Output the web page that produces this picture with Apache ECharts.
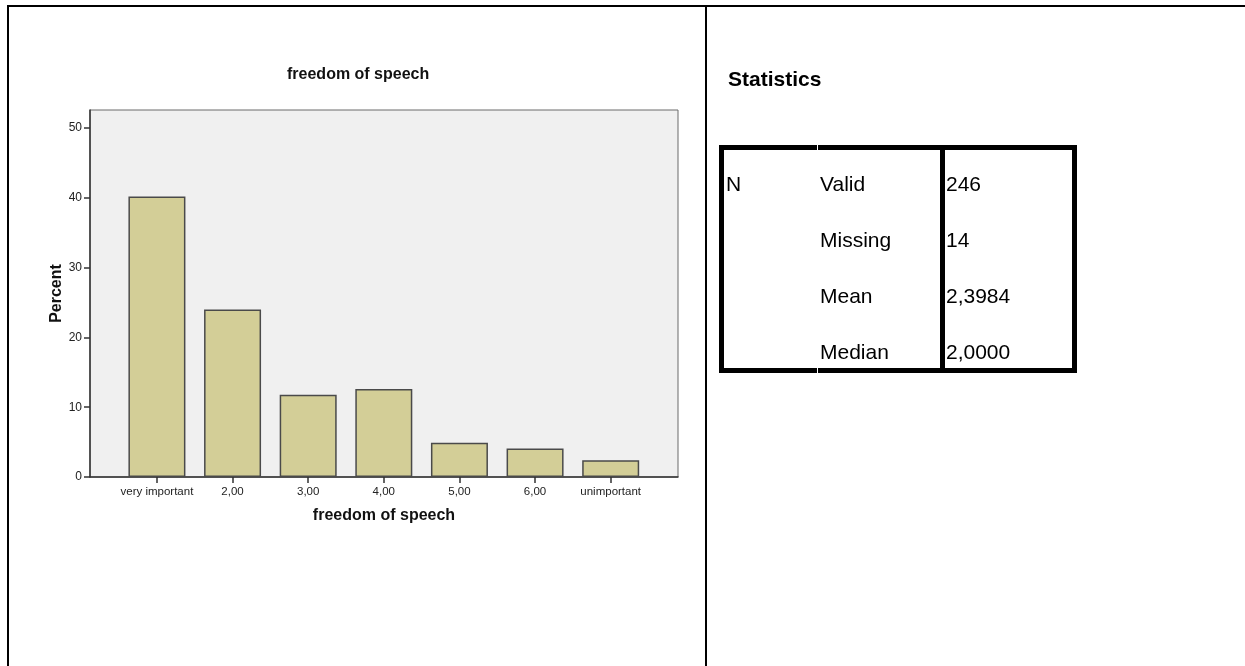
<!DOCTYPE html>
<html><head><meta charset="utf-8">
<script src="https://cdn.jsdelivr.net/npm/echarts@6/dist/echarts.min.js"></script>
<style>
html,body{margin:0;padding:0;background:#fff;width:1245px;height:666px;overflow:hidden;font-family:'Liberation Sans',Arial,sans-serif;}
#chart{position:absolute;left:0;top:0;width:1245px;height:666px;}
.ln{position:absolute;background:#000;}
.wt{position:absolute;background:#fff;}
.t{position:absolute;font-size:21px;line-height:24px;color:#000;white-space:nowrap;}
</style></head><body>
<div id="chart"></div>
<div id="overlay"></div>
<script>
// ---- data ----
const chartTitle = 'freedom of speech';
const xTitle = 'freedom of speech';
const yTitle = 'Percent';
const categories = ['very important', '2,00', '3,00', '4,00', '5,00', '6,00', 'unimportant'];
const percents = [40.2, 24.0, 11.8, 12.6, 4.9, 4.1, 2.4];
const yTicks = [0, 10, 20, 30, 40, 50];
const statsTitle = 'Statistics';
const statGroup = 'N';
const statLabels = ['Valid', 'Missing', 'Mean', 'Median'];
const statValues = ['246', '14', '2,3984', '2,0000'];

// ---- chart ----
const positions = categories.map((c, i) => i + 1);
const chart = echarts.init(document.getElementById('chart'), null, {renderer: 'canvas'});
const FONT = "'Liberation Sans', Arial, sans-serif";
chart.setOption({
  animation: false,
  title: {
    text: chartTitle, left: 282, top: 62,
    textStyle: {fontSize: 16, fontWeight: 'bold', color: '#111', fontFamily: FONT}
  },
  grid: {
    left: 90, top: 110, right: 567, bottom: 189,
    show: true, backgroundColor: '#f0f0f0', borderColor: '#6a6a6a', borderWidth: 1
  },
  xAxis: {
    type: 'value', min: 0.115, max: 7.89,
    name: xTitle, nameLocation: 'middle', nameGap: 31,
    nameTextStyle: {fontSize: 16, fontWeight: 'bold', color: '#111', fontFamily: FONT},
    axisLine: {show: true, lineStyle: {color: '#333', width: 1.5}},
    axisTick: {show: true, length: 6, customValues: positions, lineStyle: {color: '#333', width: 1.5}},
    axisLabel: {
      customValues: positions, margin: 9, fontSize: 11.5, color: '#222', fontFamily: FONT,
      formatter: v => categories[Math.round(v) - 1] || ''
    },
    splitLine: {show: false}
  },
  yAxis: {
    type: 'value', min: 0, max: 52.6, interval: 10,
    name: yTitle, nameLocation: 'middle', nameGap: 25,
    nameTextStyle: {fontSize: 16, fontWeight: 'bold', color: '#111', fontFamily: FONT},
    axisLine: {show: true, lineStyle: {color: '#333', width: 1.5}},
    axisTick: {show: true, length: 6, customValues: yTicks, lineStyle: {color: '#333', width: 1.5}},
    axisLabel: {customValues: yTicks, margin: 8, fontSize: 12, color: '#222', fontFamily: FONT},
    splitLine: {show: false}
  },
  series: [{
    type: 'bar', barWidth: 57,
    data: positions.map((p, i) => [p, percents[i]]),
    itemStyle: {color: '#d3ce97', borderColor: '#4a4a4a', borderWidth: 1.5}
  }]
});

// ---- page frame and statistics table ----
const ov = document.getElementById('overlay');
function box(cls, l, t, w, h) {
  const d = document.createElement('div');
  d.className = cls;
  d.style.left = l + 'px'; d.style.top = t + 'px';
  d.style.width = w + 'px'; d.style.height = h + 'px';
  ov.appendChild(d);
}
function txt(s, l, cy, extra) {
  const d = document.createElement('div');
  d.className = 't';
  d.textContent = s;
  d.style.left = l + 'px';
  d.style.top = (cy - 12) + 'px';
  if (extra) Object.assign(d.style, extra);
  ov.appendChild(d);
}
// frame
box('ln', 7, 5, 1238, 2);
box('ln', 7, 5, 2, 661);
box('ln', 705, 5, 2, 661);
// table borders
box('ln', 719, 145, 358, 5);
box('ln', 719, 368, 358, 5);
box('ln', 719, 145, 5, 228);
box('ln', 1072, 145, 5, 228);
box('ln', 940, 145, 5, 228);
box('wt', 817, 145, 1, 5);
box('wt', 817, 368, 1, 5);
// texts
txt(statsTitle, 728, 79, {fontWeight: 'bold', fontSize: '21px'});
txt(statGroup, 726, 184);
const rowY = [184, 240, 296, 352];
statLabels.forEach((s, i) => txt(s, 820, rowY[i]));
statValues.forEach((s, i) => txt(s, 946, rowY[i]));
</script>
</body></html>
